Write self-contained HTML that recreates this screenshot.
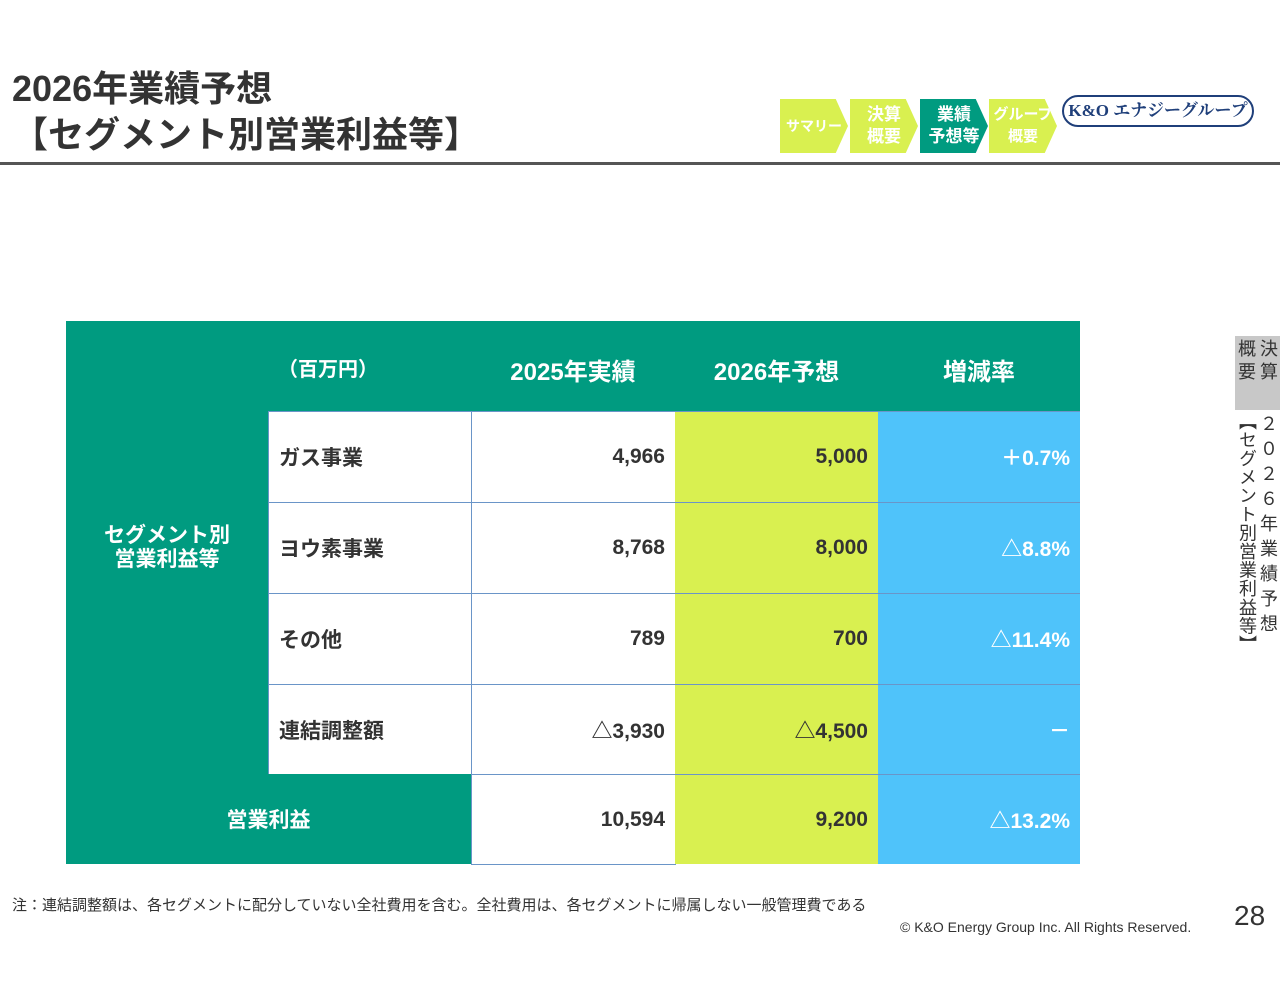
<!DOCTYPE html>
<html><head><meta charset="utf-8"><style>
*{margin:0;padding:0;box-sizing:border-box}
body{width:1280px;height:989px;background:#fff;position:relative;overflow:hidden;font-family:"Liberation Sans","Noto Sans CJK JP",sans-serif;color:#333}
.a{position:absolute}
.c{position:absolute;display:flex;align-items:center;font-size:21px;font-weight:bold}
.t{background:#009b80;color:#fff}
.w{background:#fff;color:#333;border:1px solid #6a95c8}
.g{background:#d9f050;color:#333;border-top:1px solid #6a95c8}
.b{background:#4fc3fa;color:#fff;border-top:1px solid #6a95c8}
.r{justify-content:flex-end;padding-right:10px}
.nav{position:absolute;top:99px;height:54px;display:flex;align-items:center;justify-content:center;font-weight:bold;font-size:17px;color:#fff;line-height:22px;text-align:center;clip-path:polygon(0 0,82% 0,100% 50%,82% 100%,0 100%)}
.vc{position:absolute;width:22px;font-size:18px;color:#333;text-align:center;white-space:nowrap}
.vc span{display:block}
</style></head><body>
<div class="a" style="left:12px;top:66px;font-size:36px;line-height:46px;color:#333;font-weight:bold;-webkit-text-stroke:0">2026年業績予想<br>【セグメント別営業利益等】</div>
<div class="nav" style="left:780px;width:68px;background:#d9f050;font-size:14px;">サマリー</div>
<div class="nav" style="left:850px;width:68px;background:#d9f050">決算<br>概要</div>
<div class="nav" style="left:920px;width:68px;background:#009b80">業績<br>予想等</div>
<div class="nav" style="left:989px;width:68px;background:#d9f050;font-size:15px">グループ<br>概要</div>
<div class="a" style="left:1062px;top:95px;width:192px;height:32px;border:2px solid #1f3f7a;border-radius:16px;color:#1f3f7a;font-family:'Liberation Serif','Noto Serif CJK SC',serif;font-weight:bold;font-size:17px;text-align:center;line-height:28px">K&amp;O エナジーグループ</div>
<div class="a" style="left:0;top:162px;width:1280px;height:3px;background:#555"></div>

<div class="a" style="left:1235px;top:336px;width:45px;height:74px;background:#c8c8c8"></div>
<div class="vc" style="left:1258px;top:338px;line-height:23px"><span>決</span><span>算</span></div>
<div class="vc" style="left:1236px;top:338px;line-height:23px"><span>概</span><span>要</span></div>
<div class="vc" style="left:1258px;top:412px;line-height:25px"><span>２</span><span>０</span><span>２</span><span>６</span><span>年</span><span>業</span><span>績</span><span>予</span><span>想</span></div>
<div class="a" style="left:1236px;top:412px;writing-mode:vertical-rl;font-size:18px;line-height:22px;width:22px;color:#333;white-space:nowrap;letter-spacing:0.6px">【セグメント別営業利益等】</div>

<div>
<div class="c t" style="left:66px;top:321px;width:1014px;height:90px"></div>
<div class="c t" style="left:66px;top:321px;width:202px;height:453px;justify-content:center;text-align:center;line-height:24px">セグメント別<br>営業利益等</div>
<div class="c" style="left:278px;top:321px;height:92px;color:#fff;font-size:20px">（百万円）</div>
<div class="c" style="left:471px;top:321px;width:204px;height:96px;color:#fff;justify-content:center;font-size:24px">2025年実績</div>
<div class="c" style="left:675px;top:321px;width:203px;height:96px;color:#fff;justify-content:center;font-size:24px">2026年予想</div>
<div class="c" style="left:878px;top:321px;width:202px;height:96px;color:#fff;justify-content:center;font-size:24px">増減率</div>
<div id="rows"></div>
<div class="c t" style="left:66px;top:774px;width:405px;height:90px;justify-content:center">営業利益</div>
</div>

<div class="a" style="left:12px;top:894px;font-size:15px;color:#333">注：連結調整額は、各セグメントに配分していない全社費用を含む。全社費用は、各セグメントに帰属しない一般管理費である</div>
<div class="a" style="left:900px;top:919px;font-size:14px;color:#333">© K&amp;O Energy Group Inc. All Rights Reserved.</div>
<div class="a" style="left:1234px;top:900px;font-size:28px;color:#333">28</div>

<script>
const names=["ガス事業","ヨウ素事業","その他","連結調整額","営業利益"];
const v2025=["4,966","8,768","789","△3,930","10,594"];
const v2026=["5,000","8,000","700","△4,500","9,200"];
const chg=["＋0.7%","△8.8%","△11.4%","－","△13.2%"];
const tops=[411,502,593,684,774];
const host=document.getElementById('rows');
for(let i=0;i<5;i++){
  const h=(i<4?tops[i+1]:864)-tops[i];
  if(i<4){
    const n=document.createElement('div');n.className='c w';
    
    
    n.style.cssText=`left:268px;top:${tops[i]}px;width:204px;height:${h+1}px;padding-left:10px`;
    n.textContent=names[i];host.appendChild(n);
  }
  const a=document.createElement('div');a.className='c w r';
  
  
  a.style.cssText=`left:471px;top:${tops[i]}px;width:205px;height:${h+1}px`;
  a.textContent=v2025[i];host.appendChild(a);
  const b=document.createElement('div');b.className='c g r';
  
  
  b.style.cssText=`left:675px;top:${tops[i]}px;width:203px;height:${h}px`;
  b.textContent=v2026[i];host.appendChild(b);
  const c=document.createElement('div');c.className='c b r';
  
  
  c.style.cssText=`left:878px;top:${tops[i]}px;width:202px;height:${h}px`;
  c.textContent=chg[i];host.appendChild(c);
}
</script>
</body></html>
